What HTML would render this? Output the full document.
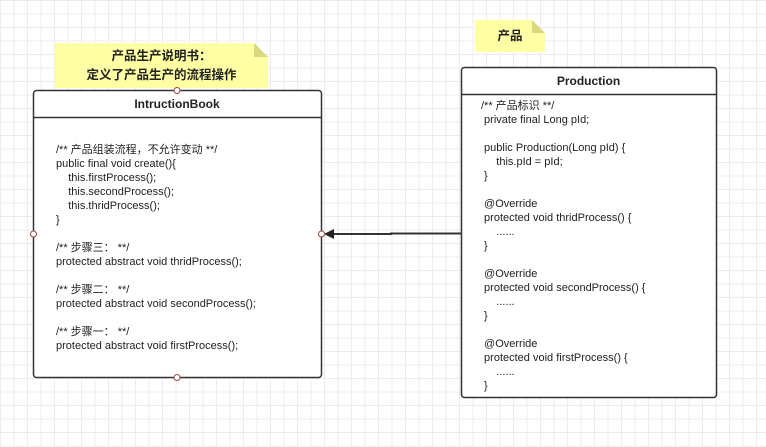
<!DOCTYPE html>
<html><head><meta charset="utf-8"><style>
body{margin:0;width:766px;height:447px;overflow:hidden;background:#fff;
background-image:linear-gradient(#ececec 1px,transparent 1px),linear-gradient(90deg,#ececec 1px,transparent 1px);
background-size:13.5px 13.5px;background-position:0 0;font-family:"Liberation Sans","Noto Sans CJK SC",sans-serif;}
.t{position:absolute;font-size:11px;color:#222;white-space:pre;line-height:14px}
</style></head><body>
<svg width="766" height="447" style="position:absolute;left:0;top:0">
<path d="M55 43 H254 L268 57 V88 H55Z" fill="#ffff99" opacity="0.9"/>
<path d="M254 43 V57 H268Z" fill="#d8d880"/>
<path d="M475 20 H532 L545 33 V52 H475Z" fill="#ffff99" opacity="0.9"/>
<path d="M532 20 V33 H545Z" fill="#d8d880"/>
<rect x="33.5" y="90.5" width="288" height="287" rx="3" fill="#fff" stroke="#333" stroke-width="1.5"/>
<line x1="33.5" y1="117.5" x2="321.5" y2="117.5" stroke="#333" stroke-width="1.5"/>
<rect x="461.5" y="67.5" width="255" height="330" rx="3" fill="#fff" stroke="#333" stroke-width="1.5"/>
<line x1="461.5" y1="94.5" x2="716.5" y2="94.5" stroke="#333" stroke-width="1.5"/>
<path d="M461 233.5 H391 V234 H332" stroke="#333" stroke-width="2" fill="none"/>
<path d="M324 234 L334 229 L334 239Z" fill="#222"/>
<circle cx="321.5" cy="234" r="3" fill="#fff" stroke="#a04040"/>
<circle cx="177" cy="90.5" r="3" fill="#fff" stroke="#a04040"/>
<circle cx="177" cy="377.5" r="3" fill="#fff" stroke="#a04040"/>
<circle cx="33.5" cy="234" r="3" fill="#fff" stroke="#a04040"/>
</svg>
<div class="t" style="left:55px;top:47px;width:213px;text-align:center;font-weight:bold;font-size:12.5px;line-height:19px;color:#222">产品生产说明书：
定义了产品生产的流程操作</div>
<div class="t" style="left:475px;top:29px;width:70px;text-align:center;font-weight:bold;font-size:12.5px">产品</div>
<div class="t" style="left:33px;top:97px;width:288px;text-align:center;font-weight:bold;font-size:12px">IntructionBook</div>
<div class="t" style="left:461px;top:74px;width:255px;text-align:center;font-weight:bold;font-size:12px">Production</div>
<div class="t" style="left:56px;top:143px">/** 产品组装流程，不允许变动 **/
public final void create(){
    this.firstProcess();
    this.secondProcess();
    this.thridProcess();
}

/** 步骤三： **/
protected abstract void thridProcess();

/** 步骤二： **/
protected abstract void secondProcess();

/** 步骤一： **/
protected abstract void firstProcess();</div>
<div class="t" style="left:481px;top:99px">/** 产品标识 **/
 private final Long pId;

 public Production(Long pId) {
     this.pId = pId;
 }

 @Override
 protected void thridProcess() {
     ......
 }

 @Override
 protected void secondProcess() {
     ......
 }

 @Override
 protected void firstProcess() {
     ......
 }</div>
</body></html>
